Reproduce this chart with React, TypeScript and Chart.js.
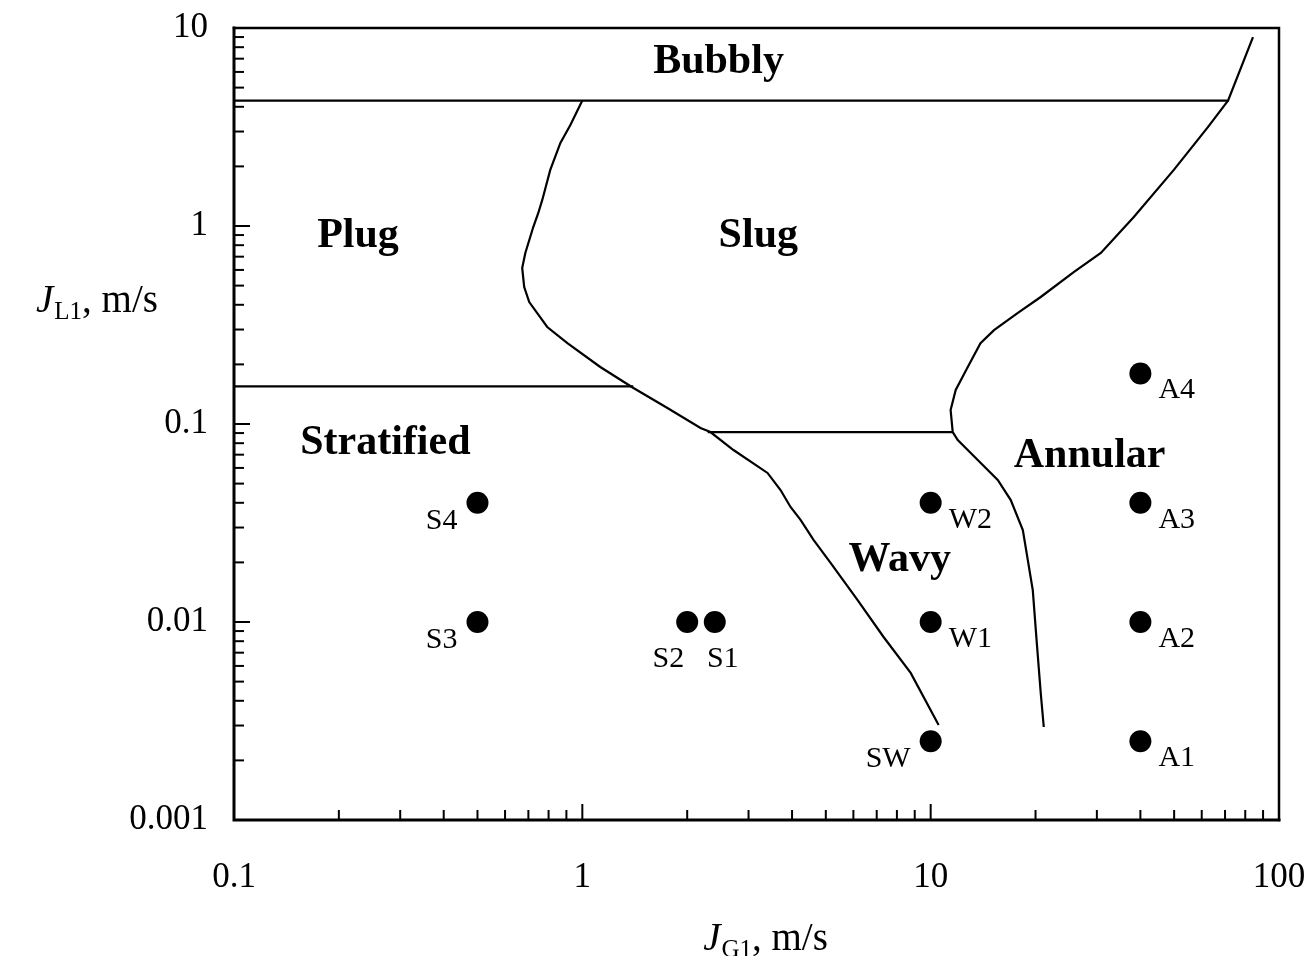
import React, { useEffect, useRef } from "react";
import { Chart, registerables } from "chart.js";

Chart.register(...registerables);

// Axis decades and their printed labels
const xTickValues = [0.1, 1, 10, 100];
const xTickLabels = ["0.1", "1", "10", "100"];
const yTickValues = [0.001, 0.01, 0.1, 1, 10];
const yTickLabels = ["0.001", "0.01", "0.1", "1", "10"];

// Test conditions (superficial gas / liquid velocities, m/s)
const pointNames = ["S1", "S2", "S3", "S4", "SW", "W1", "W2", "A1", "A2", "A3", "A4"];
const pointJG = [2.4, 2, 0.5, 0.5, 10, 10, 10, 40, 40, 40, 40];
const pointJL = [0.01, 0.01, 0.01, 0.04, 0.0025, 0.01, 0.04, 0.0025, 0.01, 0.04, 0.18];

// Flow-pattern transition boundaries
const bubblyJG = [0.1, 71.4, 84.2];
const bubblyJL = [4.3, 4.3, 9.0];

const plugStratJG = [0.1, 1.4];
const plugStratJL = [0.155, 0.155];

const slugWavyJG = [2.29, 11.57];
const slugWavyJL = [0.091, 0.091];

const intermittentJG = [
  1.0, 0.924, 0.865, 0.809, 0.767, 0.747, 0.723, 0.686, 0.672, 0.681, 0.704, 0.793,
  0.906, 1.126, 1.402, 1.755, 2.184, 2.332, 2.716, 3.401, 3.707, 3.96, 4.231, 4.61,
  5.16, 6.17, 7.325, 8.762, 10.54,
];
const intermittentJL = [
  4.3, 3.24, 2.63, 1.92, 1.35, 1.16, 0.988, 0.731, 0.614, 0.492, 0.413, 0.309,
  0.256, 0.194, 0.152, 0.1205, 0.0954, 0.0911, 0.0739, 0.0566, 0.0464, 0.0381, 0.0328, 0.026,
  0.0199, 0.0129, 0.0084, 0.00553, 0.00302,
];

const annularJG = [
  71.4, 62.5, 49.9, 38.3, 30.8, 25.8, 20.7, 17.8, 15.2, 13.9, 12.78, 11.8, 11.41,
  11.57, 11.96, 13.65, 15.58, 16.98, 18.39, 19.0, 19.64, 20.17, 20.7, 21.12,
];
const annularJL = [
  4.3, 3.16, 1.92, 1.11, 0.731, 0.586, 0.438, 0.364, 0.298, 0.256, 0.194, 0.1485, 0.1177,
  0.0911, 0.083, 0.0658, 0.0522, 0.0413, 0.0291, 0.0206, 0.0145, 0.00783, 0.00438, 0.00295,
];

// Regime names, anchored in data space
const regionNames = ["Bubbly", "Plug", "Slug", "Stratified", "Annular", "Wavy"];
const regionJG = [2.46, 0.227, 3.2, 0.272, 28.6, 8.15];
const regionJL = [6.74, 0.89, 0.89, 0.0802, 0.0689, 0.0206];

const SERIF = '"Liberation Serif", "Times New Roman", serif';

const labelSide: Record<string, string> = {
  S1: "below",
  S2: "belowLeft",
  S3: "left",
  S4: "left",
  SW: "left",
  W1: "right",
  W2: "right",
  A1: "right",
  A2: "right",
  A3: "right",
  A4: "right",
};

const zip = (xs: number[], ys: number[]) => xs.map((x, i) => ({ x, y: ys[i] }));

const lineSet = (xs: number[], ys: number[]) => ({
  data: zip(xs, ys),
  showLine: true,
  borderColor: "#000",
  borderWidth: 2.2,
  pointRadius: 0,
  fill: false,
  tension: 0,
});

function drawVelocityTitle(
  ctx: CanvasRenderingContext2D,
  x: number,
  baseline: number,
  sub: string,
  align: "left" | "center"
) {
  const mainFont = `italic 39px ${SERIF}`;
  const subFont = `25px ${SERIF}`;
  const restFont = `39px ${SERIF}`;
  const rest = ", m/s";
  ctx.font = mainFont;
  const wJ = ctx.measureText("J").width;
  ctx.font = subFont;
  const wSub = ctx.measureText(sub).width;
  ctx.font = restFont;
  const wRest = ctx.measureText(rest).width;
  const total = wJ + wSub + wRest;
  let left = align === "center" ? x - total / 2 : x;
  ctx.textAlign = "left";
  ctx.textBaseline = "alphabetic";
  ctx.fillStyle = "#000";
  ctx.font = mainFont;
  ctx.fillText("J", left, baseline);
  left += wJ + 1;
  ctx.font = subFont;
  ctx.fillText(sub, left, baseline + 7);
  left += wSub;
  ctx.font = restFont;
  ctx.fillText(rest, left, baseline);
}

const overlayPlugin = {
  id: "mapOverlay",
  afterDraw(chart: any) {
    const { ctx, chartArea, scales } = chart;
    const xs = scales.x;
    const ys = scales.y;
    const { left, right, top, bottom } = chartArea;
    ctx.save();
    ctx.strokeStyle = "#000";
    ctx.lineCap = "square";

    // frame
    ctx.lineWidth = 3;
    ctx.beginPath();
    ctx.moveTo(left, top);
    ctx.lineTo(left, bottom);
    ctx.lineTo(right, bottom);
    ctx.stroke();
    ctx.lineWidth = 2.5;
    ctx.beginPath();
    ctx.moveTo(left, top);
    ctx.lineTo(right, top);
    ctx.lineTo(right, bottom);
    ctx.stroke();

    // inward ticks on the left and bottom axes
    ctx.lineWidth = 2;
    ctx.lineCap = "butt";
    const majorLen = 16;
    const minorLen = 10;
    for (let i = 0; i < xTickValues.length; i++) {
      const d = xTickValues[i];
      const px = xs.getPixelForValue(d);
      if (i > 0 && i < xTickValues.length - 1) {
        ctx.beginPath();
        ctx.moveTo(px, bottom);
        ctx.lineTo(px, bottom - majorLen);
        ctx.stroke();
      }
      if (i < xTickValues.length - 1) {
        for (let m = 2; m <= 9; m++) {
          const p = xs.getPixelForValue(d * m);
          ctx.beginPath();
          ctx.moveTo(p, bottom);
          ctx.lineTo(p, bottom - minorLen);
          ctx.stroke();
        }
      }
    }
    for (let i = 0; i < yTickValues.length; i++) {
      const d = yTickValues[i];
      const py = ys.getPixelForValue(d);
      if (i > 0 && i < yTickValues.length - 1) {
        ctx.beginPath();
        ctx.moveTo(left, py);
        ctx.lineTo(left + majorLen, py);
        ctx.stroke();
      }
      if (i < yTickValues.length - 1) {
        for (let m = 2; m <= 9; m++) {
          const p = ys.getPixelForValue(d * m);
          ctx.beginPath();
          ctx.moveTo(left, p);
          ctx.lineTo(left + minorLen, p);
          ctx.stroke();
        }
      }
    }

    // regime names
    ctx.fillStyle = "#000";
    ctx.font = `bold 42px ${SERIF}`;
    ctx.textAlign = "center";
    ctx.textBaseline = "middle";
    regionNames.forEach((name, i) => {
      ctx.fillText(name, xs.getPixelForValue(regionJG[i]), ys.getPixelForValue(regionJL[i]));
    });

    // point tags
    ctx.font = `30px ${SERIF}`;
    ctx.textBaseline = "middle";
    pointNames.forEach((name, i) => {
      const px = xs.getPixelForValue(pointJG[i]);
      const py = ys.getPixelForValue(pointJL[i]);
      const side = labelSide[name];
      if (side === "right") {
        ctx.textAlign = "left";
        ctx.fillText(name, px + 18, py + 17);
      } else if (side === "left") {
        ctx.textAlign = "right";
        ctx.fillText(name, px - 20, py + 18);
      } else if (side === "belowLeft") {
        ctx.textAlign = "right";
        ctx.fillText(name, px - 3, py + 37);
      } else {
        ctx.textAlign = "center";
        ctx.fillText(name, px + 8, py + 37);
      }
    });

    // axis titles
    drawVelocityTitle(ctx, 765, 950, "G1", "center");
    drawVelocityTitle(ctx, 36, 312, "L1", "left");

    ctx.restore();
  },
};

export default function App() {
  const canvasRef = useRef<HTMLCanvasElement | null>(null);

  useEffect(() => {
    const canvas = canvasRef.current;
    if (!canvas) return;
    const chart = new Chart(canvas, {
      type: "scatter",
      data: {
        datasets: [
          lineSet(bubblyJG, bubblyJL),
          lineSet(plugStratJG, plugStratJL),
          lineSet(slugWavyJG, slugWavyJL),
          lineSet(intermittentJG, intermittentJL),
          lineSet(annularJG, annularJL),
          {
            data: zip(pointJG, pointJL),
            showLine: false,
            pointRadius: 11,
            pointHoverRadius: 11,
            pointBackgroundColor: "#000",
            pointBorderWidth: 0,
            backgroundColor: "#000",
            borderColor: "#000",
          },
        ],
      } as any,
      options: {
        responsive: false,
        animation: false,
        events: [],
        layout: { padding: { left: 0, right: 34, top: 28, bottom: 0 } },
        plugins: {
          legend: { display: false },
          tooltip: { enabled: false },
        },
        scales: {
          x: {
            type: "logarithmic",
            min: 0.1,
            max: 100,
            grid: { display: false, drawTicks: false },
            border: { display: false },
            afterBuildTicks: (scale: any) => {
              scale.ticks = xTickValues.map((v) => ({ value: v }));
            },
            afterFit: (scale: any) => {
              scale.height = 136;
              scale.paddingLeft = 0;
              scale.paddingRight = 0;
              scale.paddingTop = 0;
              scale.paddingBottom = 0;
            },
            ticks: {
              padding: 37,
              color: "#000",
              font: { family: SERIF, size: 35 },
              maxRotation: 0,
              autoSkip: false,
              callback: (v: any) => {
                const i = xTickValues.indexOf(Number(v));
                return i >= 0 ? xTickLabels[i] : "";
              },
            },
          },
          y: {
            type: "logarithmic",
            min: 0.001,
            max: 10,
            grid: { display: false, drawTicks: false },
            border: { display: false },
            afterBuildTicks: (scale: any) => {
              scale.ticks = yTickValues.map((v) => ({ value: v }));
            },
            afterFit: (scale: any) => {
              scale.width = 234;
              scale.paddingLeft = 0;
              scale.paddingRight = 0;
              scale.paddingTop = 0;
              scale.paddingBottom = 0;
            },
            ticks: {
              padding: 26,
              color: "#000",
              font: { family: SERIF, size: 35 },
              autoSkip: false,
              callback: (v: any) => {
                const i = yTickValues.indexOf(Number(v));
                return i >= 0 ? yTickLabels[i] : "";
              },
            },
          },
        },
      } as any,
      plugins: [overlayPlugin],
    });
    return () => chart.destroy();
  }, []);

  return (
    <div style={{ position: "absolute", left: 0, top: 0, width: 1313, height: 956, background: "#fff" }}>
      <canvas ref={canvasRef} width={1313} height={956} />
    </div>
  );
}
